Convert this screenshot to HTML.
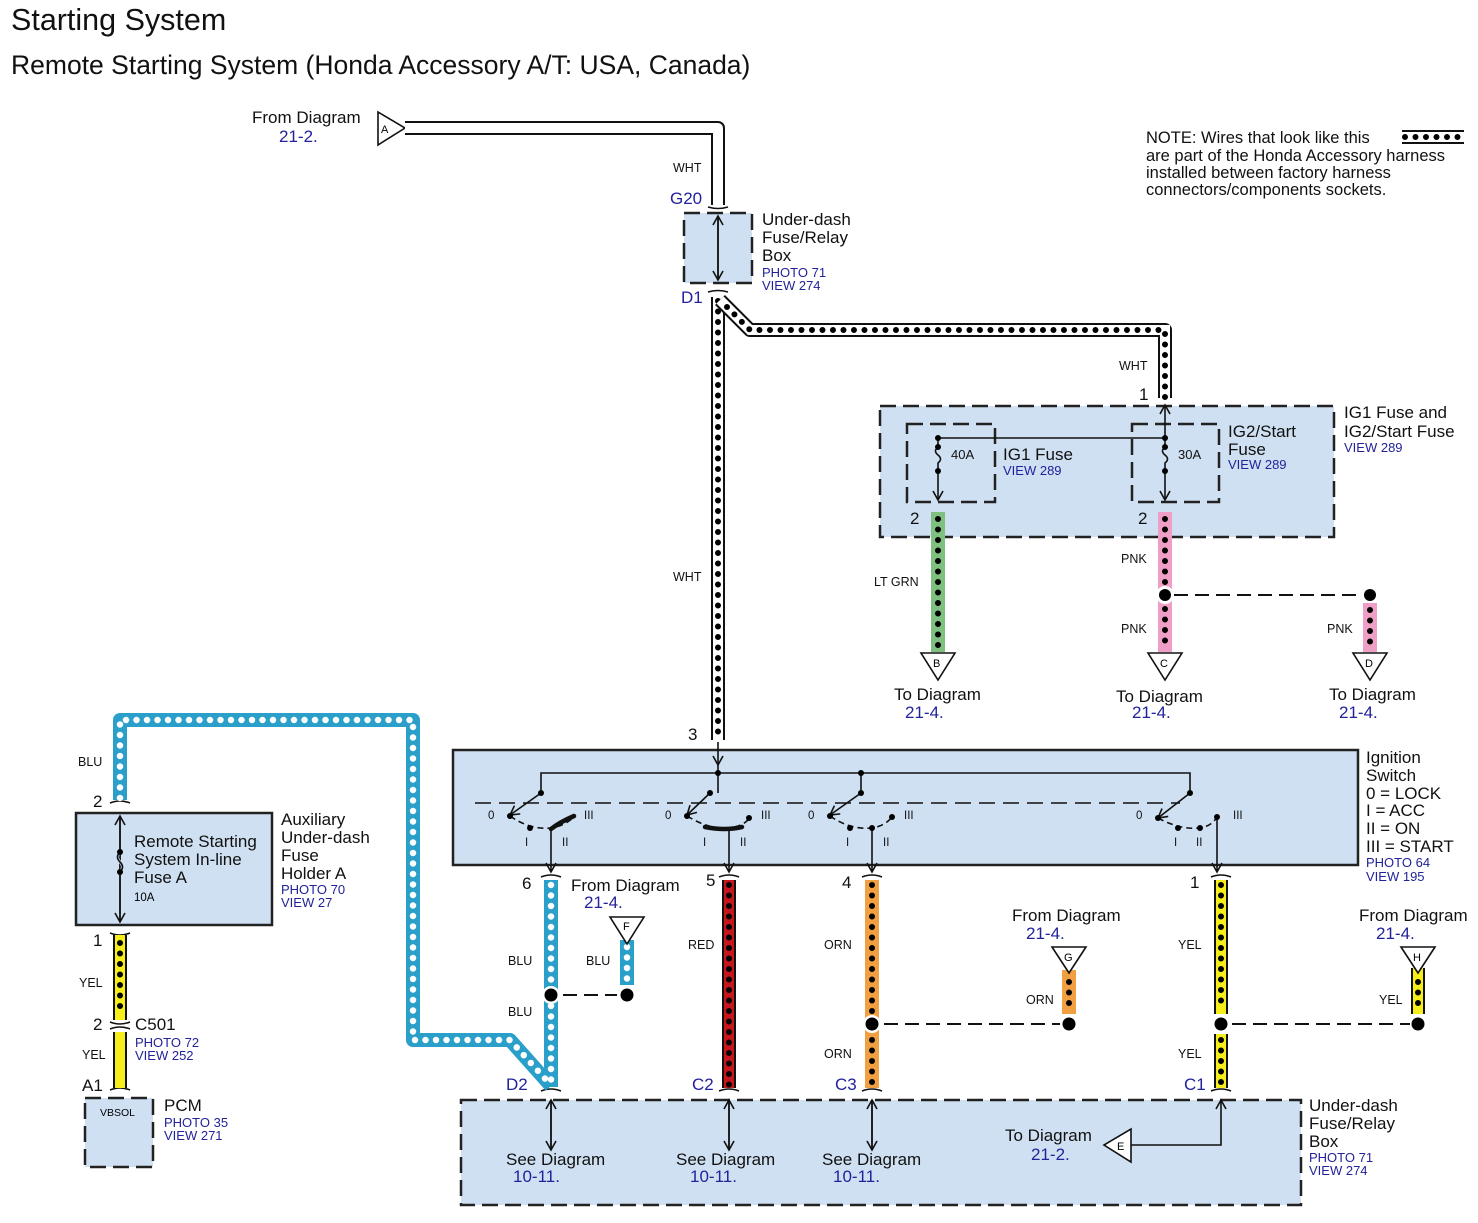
<!DOCTYPE html>
<html><head><meta charset="utf-8"><style>
body{margin:0;background:#fff}
svg{display:block;font-family:"Liberation Sans",Arial,sans-serif}
.ob{stroke:#111;stroke-width:14;fill:none;stroke-linejoin:round}
.dk{stroke:#000;stroke-width:6;stroke-dasharray:0 10.5;stroke-linecap:round;fill:none}
.dw{stroke:#fff;stroke-width:6.5;stroke-dasharray:0 10.5;stroke-linecap:round;fill:none}
.ln{stroke:#111;stroke-width:1.6;fill:none}
.dash{stroke:#111;stroke-width:2;fill:none;stroke-dasharray:14 7}
.box{fill:#cfe0f3;stroke:#222;stroke-width:2.5}
.dbox{fill:#cfe0f3;stroke:#222;stroke-width:2.5;stroke-dasharray:16 7}
.t{font-size:17px;fill:#111}
.s{font-size:13px;fill:#111}
.b{fill:#22229a}
.bs{font-size:13px;fill:#22229a}
.w{font-size:12.5px;fill:#111}
</style></head><body>
<svg width="1478" height="1223" viewBox="0 0 1478 1223" xmlns="http://www.w3.org/2000/svg">
<defs>
<marker id="ar" markerWidth="12" markerHeight="12" refX="10" refY="6" orient="auto" markerUnits="userSpaceOnUse"><path d="M1,1 L10,6 L1,11" fill="none" stroke="#111" stroke-width="1.6"/></marker>
</defs>
<text x="11" y="30" font-size="30.5" fill="#111">Starting System</text>
<text x="11" y="74" font-size="26.5" fill="#111">Remote Starting System (Honda Accessory A/T: USA, Canada)</text>

<!-- NOTE -->
<text fill="#111" font-size="16.5"><tspan x="1146" y="143">NOTE: Wires that look like this</tspan><tspan x="1146" y="161">are part of the Honda Accessory harness</tspan><tspan x="1146" y="178">installed between factory harness</tspan><tspan x="1146" y="195">connectors/components sockets.</tspan></text>
<path class="ob" d="M1402,137 H1464"/><path d="M1402,137 H1464" stroke="#fff" stroke-width="10"/><path class="dk" d="M1405,137 H1464"/>

<!-- From diagram A -->
<text class="t" x="252" y="123">From Diagram</text><text class="t b" x="279" y="142">21-2.</text>
<path d="M378,112 L378,145 L405,128 Z" fill="#fff" stroke="#111" stroke-width="1.6"/><text x="381" y="133" font-size="11">A</text>
<path class="ob" d="M405,128 H718 V205"/><path d="M405,128 H718 V205" stroke="#fff" stroke-width="10" fill="none" stroke-linejoin="round"/>
<text class="w" x="673" y="172">WHT</text>
<text class="t b" x="670" y="204">G20</text>
<path class="ln" d="M708,207 Q718,210 728,207" stroke-width="3"/>
<rect class="dbox" x="684" y="213" width="68" height="70"/>
<path class="ln" d="M718,280 V216" marker-end="url(#ar)"/><path class="ln" d="M718,216 V280" marker-end="url(#ar)"/>
<text class="t"><tspan x="762" y="225">Under-dash</tspan><tspan x="762" y="243">Fuse/Relay</tspan><tspan x="762" y="261">Box</tspan></text>
<text class="bs"><tspan x="762" y="277">PHOTO 71</tspan><tspan x="762" y="290">VIEW 274</tspan></text>
<text class="t b" x="681" y="303">D1</text>
<path class="ln" d="M708,292 Q718,289 728,292" stroke-width="3"/>

<!-- WHT harness -->
<path class="ob" d="M718,297 V740"/><path d="M718,297 V740" stroke="#fff" stroke-width="10"/><path class="dk" d="M718,301 V740"/>
<path class="ob" d="M720,300 L750,330 H1165 V398"/><path d="M720,300 L750,330 H1165 V398" stroke="#fff" stroke-width="10" fill="none"/><path class="dk" d="M727,307 L750,330 H1165 V398"/>
<text class="w" x="673" y="581">WHT</text>
<text class="w" x="1119" y="370">WHT</text>
<text class="t" x="1139" y="400">1</text>
<text class="t" x="688" y="740">3</text>

<!-- IG fuse box -->
<rect class="dbox" x="880" y="406" width="454" height="131"/>
<rect x="907" y="424" width="88" height="78" fill="none" stroke="#222" stroke-width="2.5" stroke-dasharray="16 7"/>
<rect x="1132" y="424" width="87" height="78" fill="none" stroke="#222" stroke-width="2.5" stroke-dasharray="16 7"/>
<path class="ln" d="M938,438 H1165"/>
<path class="ln" d="M1165,438 V405" marker-end="url(#ar)"/>
<path class="ln" d="M938,438 V447 q-5,4 0,8 q5,4 0,8 V500" marker-end="url(#ar)"/>
<path class="ln" d="M1165,438 V447 q-5,4 0,8 q5,4 0,8 V500" marker-end="url(#ar)"/>
<circle cx="938" cy="438" r="3"/><circle cx="938" cy="471" r="3"/><circle cx="1165" cy="438" r="3"/><circle cx="1165" cy="471" r="3"/><circle cx="1165" cy="447" r="3"/><circle cx="938" cy="447" r="3"/>
<text class="s" x="951" y="459" font-size="11.5">40A</text><text class="s" x="1178" y="459" font-size="11.5">30A</text>
<text class="t" x="1003" y="460">IG1 Fuse</text><text class="bs" x="1003" y="475">VIEW 289</text>
<text class="t"><tspan x="1228" y="437">IG2/Start</tspan><tspan x="1228" y="455">Fuse</tspan></text><text class="bs" x="1228" y="469">VIEW 289</text>
<text class="t"><tspan x="1344" y="418">IG1 Fuse and</tspan><tspan x="1344" y="437">IG2/Start Fuse</tspan></text><text class="bs" x="1344" y="452">VIEW 289</text>
<text class="t" x="910" y="524">2</text><text class="t" x="1138" y="524">2</text>

<!-- green / pink -->
<path d="M938,512 V652" stroke="#7fbf7f" stroke-width="14"/><path class="dk" d="M938,519 V650"/>
<text class="w" x="874" y="586">LT GRN</text>
<path d="M1165,512 V652" stroke="#ef9ec6" stroke-width="14"/><path class="dk" d="M1165,519 V584"/><path class="dk" d="M1165,609 V650"/>
<circle cx="1165" cy="595" r="9" fill="#fff"/><circle cx="1165" cy="595" r="6"/>
<path d="M1370,603 V652" stroke="#ef9ec6" stroke-width="14"/><path class="dk" d="M1370,610 V650"/>
<circle cx="1370" cy="595" r="6"/>
<path class="dash" d="M1174,595 H1362" stroke-width="1.6" stroke-dasharray="12 7"/>
<text class="w" x="1121" y="563">PNK</text><text class="w" x="1121" y="633">PNK</text><text class="w" x="1327" y="633">PNK</text>
<path d="M921,653 L955,653 L938,680Z" fill="#fff" stroke="#111" stroke-width="1.6"/><text x="933" y="667" font-size="11">B</text>
<path d="M1148,653 L1182,653 L1165,680Z" fill="#fff" stroke="#111" stroke-width="1.6"/><text x="1160" y="667" font-size="11">C</text>
<path d="M1353,653 L1387,653 L1370,680Z" fill="#fff" stroke="#111" stroke-width="1.6"/><text x="1365" y="667" font-size="11">D</text>
<text class="t" x="894" y="700">To Diagram</text><text class="t b" x="905" y="718">21-4.</text>
<text class="t" x="1116" y="702">To Diagram</text><text class="t b" x="1132" y="718">21-4.</text>
<text class="t" x="1329" y="700">To Diagram</text><text class="t b" x="1339" y="718">21-4.</text>

<!-- Ignition switch -->
<rect class="box" x="453" y="750" width="905" height="115"/>
<path class="ln" d="M718,742 V765" marker-end="url(#ar)"/>
<path class="ln" d="M541,793 V773 H1190 V793 M718,765 V793 M861,773 V793"/>
<circle cx="718" cy="773" r="3"/><circle cx="861" cy="773" r="3"/>
<path class="ln" d="M475,803 H1180" stroke-dasharray="16 8"/>
<g class="ln">
<path d="M541,793 L510,815" marker-end="url(#ar)"/><path d="M710,793 L687,815" marker-end="url(#ar)"/><path d="M861,793 L830,815" marker-end="url(#ar)"/><path d="M1190,793 L1158,818" marker-end="url(#ar)"/>
<path d="M510,816 Q530,830 551,828 Q565,826 575,816" stroke-dasharray="6 4"/>
<path d="M687,816 Q710,830 729,828 Q745,826 750,817" stroke-dasharray="6 4"/>
<path d="M830,816 Q850,830 872,828 Q885,826 892,817" stroke-dasharray="6 4"/>
<path d="M1158,818 Q1180,830 1200,828 Q1212,826 1217,817" stroke-dasharray="6 4"/>
<path d="M551,829 V872" marker-end="url(#ar)"/><path d="M729,829 V872" marker-end="url(#ar)"/><path d="M872,829 V872" marker-end="url(#ar)"/><path d="M1217,817 V872" marker-end="url(#ar)"/>
</g>
<path d="M551,829 Q560,822 574,816" stroke="#111" stroke-width="4.5" fill="none" stroke-linecap="round"/>
<path d="M705,827 Q725,831 742,827" stroke="#111" stroke-width="4.5" fill="none" stroke-linecap="round"/>
<g>
<circle cx="541" cy="793" r="3"/><circle cx="710" cy="793" r="3"/><circle cx="861" cy="793" r="3"/><circle cx="1190" cy="793" r="3"/>
<circle cx="510" cy="816" r="3"/><circle cx="530" cy="828" r="3"/><circle cx="687" cy="816" r="3"/><circle cx="749" cy="818" r="3"/><circle cx="830" cy="816" r="3"/><circle cx="850" cy="828" r="3"/><circle cx="872" cy="828" r="3"/><circle cx="892" cy="817" r="3"/><circle cx="1158" cy="818" r="3"/><circle cx="1178" cy="828" r="3"/><circle cx="1200" cy="828" r="3"/><circle cx="1217" cy="817" r="3"/>
</g>
<g font-size="11.5" fill="#111">
<text x="488" y="819">0</text><text x="584" y="819">III</text><text x="525" y="846">I</text><text x="562" y="846">II</text>
<text x="665" y="819">0</text><text x="761" y="819">III</text><text x="703" y="846">I</text><text x="740" y="846">II</text>
<text x="808" y="819">0</text><text x="904" y="819">III</text><text x="846" y="846">I</text><text x="883" y="846">II</text>
<text x="1136" y="819">0</text><text x="1233" y="819">III</text><text x="1174" y="846">I</text><text x="1196" y="846">II</text>
</g>
<text class="t"><tspan x="1366" y="763">Ignition</tspan><tspan x="1366" y="781">Switch</tspan><tspan x="1366" y="799">0 = LOCK</tspan><tspan x="1366" y="816">I = ACC</tspan><tspan x="1366" y="834">II = ON</tspan><tspan x="1366" y="852">III = START</tspan></text>
<text class="bs"><tspan x="1366" y="867">PHOTO 64</tspan><tspan x="1366" y="881">VIEW 195</tspan></text>

<!-- connector marks -->
<g class="ln" stroke-width="3">
<path d="M541,877 Q551,873 561,877"/><path d="M719,877 Q729,873 739,877"/><path d="M862,877 Q872,873 882,877"/><path d="M1211,877 Q1221,873 1231,877"/>
<path d="M541,1091 Q551,1087 561,1091"/><path d="M719,1091 Q729,1087 739,1091"/><path d="M862,1091 Q872,1087 882,1091"/><path d="M1211,1091 Q1221,1087 1231,1091"/>
<path d="M110,803 Q120,799 130,803"/><path d="M110,933 Q120,937 130,933"/><path d="M110,1022 Q120,1026 130,1022"/><path d="M110,1029 Q120,1025 130,1029"/><path d="M110,1090 Q120,1086 130,1090"/>
</g>
<text class="t" x="522" y="889">6</text><text class="t" x="706" y="886">5</text><text class="t" x="842" y="888">4</text><text class="t" x="1190" y="888">1</text>

<!-- Blue harness -->
<path d="M120,800 V720 H413 V1040 H510 L551,1086 M551,880 V1087" stroke="#2a9fc9" stroke-width="14" fill="none" stroke-linejoin="round"/>
<path class="dw" d="M120,798 V720 H413 V1040 H510 L549,1083"/>
<path class="dw" d="M551,885 V984 M551,1006 V1084"/>
<circle cx="551" cy="995" r="9" fill="#fff"/><circle cx="551" cy="995" r="6.5"/>
<path d="M627,940 V985" stroke="#2a9fc9" stroke-width="14"/><path class="dw" d="M627,947 V984"/><circle cx="627" cy="995" r="6.5"/>
<path class="dash" d="M563,995 H617" stroke-width="1.6" stroke-dasharray="12 7"/>
<path d="M610,917 L644,917 L627,944Z" fill="#fff" stroke="#111" stroke-width="1.6"/><text x="623" y="930" font-size="11">F</text>
<text class="t" x="571" y="891">From Diagram</text><text class="t b" x="584" y="908">21-4.</text>
<text class="w" x="78" y="766">BLU</text><text class="w" x="508" y="965">BLU</text><text class="w" x="586" y="965">BLU</text><text class="w" x="508" y="1016">BLU</text>

<!-- Red -->
<path class="ob" d="M729,880 V1088"/><path d="M729,880 V1088" stroke="#c4161c" stroke-width="10"/><path class="dk" d="M729,885 V1086"/>
<text class="w" x="688" y="949">RED</text>
<!-- Orange -->
<path d="M872,880 V1088" stroke="#f0a040" stroke-width="14"/><path class="dk" d="M872,885 V1012"/><path class="dk" d="M872,1040 V1086"/>
<circle cx="872" cy="1024" r="9" fill="#fff"/><circle cx="872" cy="1024" r="6.5"/>
<text class="w" x="824" y="949">ORN</text><text class="w" x="824" y="1058">ORN</text>
<path d="M1069,970 V1014" stroke="#f0a040" stroke-width="14"/><path class="dk" d="M1069,982 V1008"/><circle cx="1069" cy="1024" r="6.5"/>
<path d="M1052,947 L1086,947 L1069,973Z" fill="#fff" stroke="#111" stroke-width="1.6"/><text x="1064" y="961" font-size="11">G</text>
<text class="w" x="1026" y="1004">ORN</text>
<text class="t" x="1012" y="921">From Diagram</text><text class="t b" x="1026" y="939">21-4.</text>
<path class="dash" d="M884,1024 H1060 M1232,1024 H1410" stroke-width="1.6" stroke-dasharray="12 7"/>
<!-- Yellow -->
<path class="ob" d="M1221,880 V1014 M1221,1034 V1088"/><path d="M1221,880 V1014 M1221,1034 V1088" stroke="#f5ee1a" stroke-width="10"/><path class="dk" d="M1221,885 V1010 M1221,1040 V1086"/>
<circle cx="1221" cy="1024" r="6.5"/>
<text class="w" x="1178" y="949">YEL</text><text class="w" x="1178" y="1058">YEL</text>
<path class="ob" d="M1418,968 V1014"/><path d="M1418,968 V1014" stroke="#f5ee1a" stroke-width="10"/><path class="dk" d="M1418,982 V1008"/><circle cx="1418" cy="1024" r="6.5"/>
<path d="M1401,947 L1435,947 L1418,973Z" fill="#fff" stroke="#111" stroke-width="1.6"/><text x="1413" y="961" font-size="11">H</text>
<text class="w" x="1379" y="1004">YEL</text>
<text class="t" x="1359" y="921">From Diagram</text><text class="t b" x="1376" y="939">21-4.</text>

<!-- Aux fuse holder -->
<rect class="box" x="76" y="813" width="196" height="112"/>
<path class="ln" d="M120,920 V816" marker-end="url(#ar)"/><path class="ln" d="M120,816 V922" marker-end="url(#ar)"/>
<path d="M120,852 q-5,5 0,10 q5,5 0,10" stroke="#cfe0f3" stroke-width="3" fill="none"/>
<path d="M120,852 q-5,5 0,10 q5,5 0,10" class="ln"/>
<circle cx="120" cy="852" r="3"/><circle cx="120" cy="872" r="3"/>
<text class="t"><tspan x="134" y="847">Remote Starting</tspan><tspan x="134" y="865">System In-line</tspan><tspan x="134" y="883">Fuse A</tspan></text>
<text x="134" y="901" font-size="11.5">10A</text>
<text class="t"><tspan x="281" y="825">Auxiliary</tspan><tspan x="281" y="843">Under-dash</tspan><tspan x="281" y="861">Fuse</tspan><tspan x="281" y="879">Holder A</tspan></text>
<text class="bs"><tspan x="281" y="894">PHOTO 70</tspan><tspan x="281" y="907">VIEW 27</tspan></text>
<text class="t" x="93" y="807">2</text><text class="t" x="93" y="946">1</text>
<path class="ob" d="M120,935 V1020"/><path d="M120,935 V1020" stroke="#f5ee1a" stroke-width="10"/><path class="dk" d="M120,943 V1016"/>
<text class="w" x="79" y="987">YEL</text>
<text class="t" x="93" y="1030">2</text><text class="t" x="135" y="1030">C501</text>
<text class="bs"><tspan x="135" y="1047">PHOTO 72</tspan><tspan x="135" y="1060">VIEW 252</tspan></text>
<path class="ob" d="M120,1032 V1088"/><path d="M120,1032 V1088" stroke="#f5ee1a" stroke-width="10"/>
<text class="w" x="82" y="1059">YEL</text>
<text class="t" x="82" y="1091">A1</text>
<rect x="85" y="1098" width="68" height="69" fill="#cfe0f3" stroke="#222" stroke-width="2.5" stroke-dasharray="16 7"/>
<text x="100" y="1116" font-size="10.5">VBSOL</text>
<text class="t" x="164" y="1111">PCM</text>
<text class="bs"><tspan x="164" y="1127">PHOTO 35</tspan><tspan x="164" y="1140">VIEW 271</tspan></text>

<!-- Bottom box -->
<rect class="dbox" x="461" y="1100" width="840" height="105"/>
<text class="t b" x="506" y="1090">D2</text><text class="t b" x="692" y="1090">C2</text><text class="t b" x="835" y="1090">C3</text><text class="t b" x="1184" y="1090">C1</text>
<path class="ln" d="M551,1100 V1150" marker-end="url(#ar)"/><path class="ln" d="M551,1150 V1100" marker-end="url(#ar)"/>
<path class="ln" d="M729,1100 V1150" marker-end="url(#ar)"/><path class="ln" d="M729,1150 V1100" marker-end="url(#ar)"/>
<path class="ln" d="M872,1100 V1150" marker-end="url(#ar)"/><path class="ln" d="M872,1150 V1100" marker-end="url(#ar)"/>
<path class="ln" d="M1131,1145 H1221 V1100" marker-end="url(#ar)"/>
<path d="M1131,1129 L1131,1162 L1104,1145Z" fill="#fff" stroke="#111" stroke-width="1.6"/><text x="1117" y="1150" font-size="11">E</text>
<text class="t" x="506" y="1165">See Diagram</text><text class="t b" x="513" y="1182">10-11.</text>
<text class="t" x="676" y="1165">See Diagram</text><text class="t b" x="690" y="1182">10-11.</text>
<text class="t" x="822" y="1165">See Diagram</text><text class="t b" x="833" y="1182">10-11.</text>
<text class="t" x="1005" y="1141">To Diagram</text><text class="t b" x="1031" y="1160">21-2.</text>
<text class="t"><tspan x="1309" y="1111">Under-dash</tspan><tspan x="1309" y="1129">Fuse/Relay</tspan><tspan x="1309" y="1147">Box</tspan></text>
<text class="bs"><tspan x="1309" y="1162">PHOTO 71</tspan><tspan x="1309" y="1175">VIEW 274</tspan></text>
</svg>
</body></html>
